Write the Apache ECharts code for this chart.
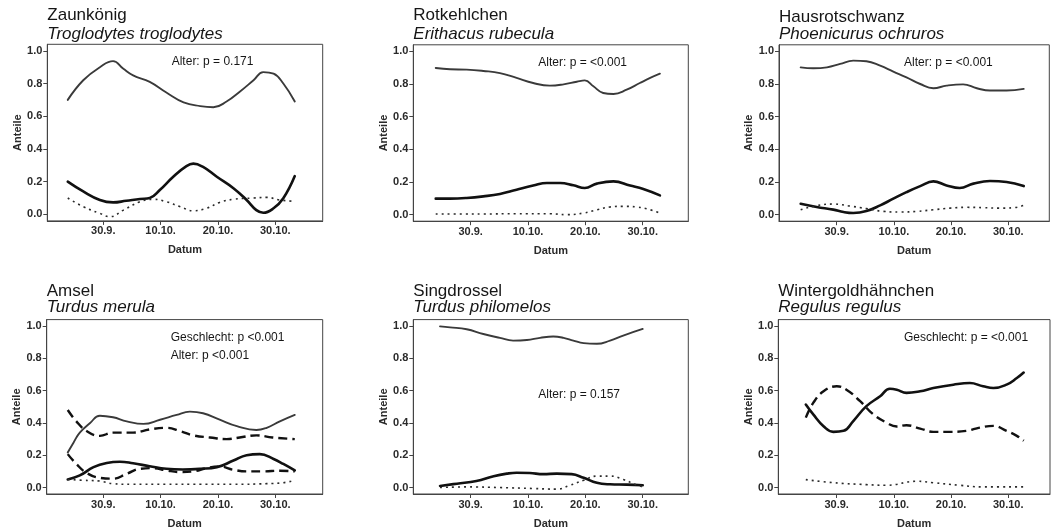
<!DOCTYPE html>
<html>
<head>
<meta charset="utf-8">
<script src="https://cdn.jsdelivr.net/npm/echarts@6/dist/echarts.min.js"></script>
<style>
html,body{margin:0;padding:0;background:#fff;}
#chart{width:1052px;height:530px;}
</style>
</head>
<body>
<div id="chart"></div>
<script>
// ---- tick labels ----
const xTickValues = [30, 40, 50, 60];           // day number (days since 31.8.)
const xTickLabels = ['30.9.', '10.10.', '20.10.', '30.10.'];
const yTickValues = [0, 0.2, 0.4, 0.6, 0.8, 1.0];

// ---- panel texts ----
const commonNames = ['Zaunkönig', 'Rotkehlchen', 'Hausrotschwanz', 'Amsel', 'Singdrossel', 'Wintergoldhähnchen'];
const latinNames = ['Troglodytes troglodytes', 'Erithacus rubecula', 'Phoenicurus ochruros', 'Turdus merula', 'Turdus philomelos', 'Regulus regulus'];
const notes = [
  ['Alter: p = 0.171'],
  ['Alter: p = <0.001'],
  ['Alter: p = <0.001'],
  ['Geschlecht: p <0.001', 'Alter: p <0.001'],
  ['Alter: p = 0.157'],
  ['Geschlecht: p = <0.001']
];

// ---- data: [day, share] ----
// Zaunkönig
const zaunGrey = [[23.8,0.70],[26.5,0.82],[29.4,0.90],[31.7,0.937],[33.5,0.89],[35.2,0.85],[38.1,0.81],[41,0.745],[44,0.685],[46.9,0.662],[49.2,0.655],[51.5,0.69],[53.8,0.75],[56.2,0.82],[57.9,0.87],[59.7,0.86],[61.4,0.80],[63.4,0.69]];
const zaunSolid = [[23.8,0.20],[26.5,0.14],[29.4,0.088],[31.7,0.073],[34,0.083],[36.4,0.094],[38.1,0.10],[39.9,0.15],[42.2,0.23],[44.5,0.295],[45.7,0.31],[47.4,0.29],[49.8,0.23],[52.7,0.16],[55,0.088],[56.7,0.026],[57.9,0.01],[59.7,0.037],[61.4,0.098],[63.4,0.234]];
const zaunDot = [[23.8,0.10],[26.5,0.047],[29.4,0.006],[31.2,-0.014],[33.5,0.026],[36.4,0.077],[38.7,0.092],[41,0.077],[43.4,0.047],[45.7,0.022],[48,0.037],[50.3,0.073],[52.7,0.092],[56.2,0.10],[58.5,0.104],[60.8,0.088],[63.4,0.08]];
// Rotkehlchen
const rotGrey = [[23.9,0.898],[26.4,0.89],[29.3,0.888],[32.2,0.88],[35.1,0.867],[38,0.837],[40.9,0.806],[43.8,0.79],[46.2,0.798],[48.5,0.814],[49.9,0.822],[51.4,0.786],[53.1,0.745],[54.9,0.739],[57.2,0.765],[59.5,0.806],[61.3,0.837],[63,0.863]];
const rotSolid = [[23.9,0.098],[26.4,0.098],[29.3,0.102],[32.2,0.112],[35.1,0.127],[38,0.153],[40.9,0.178],[43.3,0.194],[45.6,0.194],[47.9,0.18],[49.9,0.163],[52,0.19],[54.9,0.204],[57.8,0.178],[60.1,0.157],[63,0.118]];
const rotDot = [[23.9,0.004],[29,0.004],[32.2,0.004],[38,0.006],[43.8,0.006],[46.7,0.0],[49.7,0.01],[52,0.03],[54.3,0.047],[56.6,0.051],[59,0.047],[61.3,0.03],[63,0.01]];
// Hausrotschwanz
const hausGrey = [[23.7,0.902],[25.9,0.896],[28.3,0.902],[30.6,0.923],[32.9,0.943],[35.2,0.939],[37.6,0.912],[39.9,0.876],[42.2,0.841],[44.6,0.80],[46.9,0.774],[49.2,0.79],[52.1,0.798],[54.5,0.774],[56.8,0.76],[59.7,0.76],[62.7,0.77]];
const hausSolid = [[23.7,0.067],[26.5,0.047],[29.4,0.031],[31.2,0.016],[32.9,0.01],[35.2,0.022],[37.6,0.057],[39.9,0.098],[42.2,0.138],[44.6,0.175],[46.9,0.204],[49.2,0.179],[51.5,0.163],[53.9,0.19],[56.8,0.206],[59.7,0.20],[62.7,0.175]];
const hausDot = [[23.7,0.03],[26.5,0.055],[29.4,0.065],[32.3,0.053],[35.2,0.037],[38.2,0.02],[41.1,0.016],[44,0.02],[46.9,0.03],[49.8,0.04],[52.7,0.045],[55.6,0.043],[58.5,0.04],[60.8,0.042],[62.7,0.057]];
// Amsel
const amselGrey = [[23.8,0.217],[24.8,0.278],[25.9,0.34],[27.7,0.40],[29.4,0.445],[31.7,0.435],[34.1,0.41],[37,0.394],[39.9,0.42],[42.8,0.45],[45.1,0.47],[47.4,0.46],[50.3,0.42],[53.3,0.38],[56.7,0.356],[58.5,0.37],[60.8,0.41],[63.4,0.45]];
const amselDashA = [[23.8,0.48],[25.3,0.41],[27.1,0.35],[29.4,0.32],[31.7,0.34],[35.2,0.34],[38.1,0.36],[41,0.37],[43.4,0.35],[45.7,0.323],[48.6,0.31],[51.5,0.30],[53.8,0.31],[56.7,0.323],[59.5,0.31],[63.4,0.30]];
const amselDashB = [[23.8,0.207],[25.3,0.146],[27.1,0.09],[29.4,0.06],[31.7,0.055],[34.1,0.085],[36.4,0.116],[38.7,0.12],[41,0.106],[43.4,0.096],[45.7,0.10],[48,0.12],[50.3,0.13],[52.7,0.11],[55,0.10],[57.9,0.10],[60.8,0.104],[63.4,0.10]];
const amselSolid = [[23.8,0.05],[25.9,0.075],[28.3,0.126],[30.6,0.152],[32.9,0.16],[35.2,0.15],[38.1,0.132],[41,0.116],[43.9,0.112],[46.9,0.116],[49.8,0.126],[52.7,0.167],[55,0.20],[57.3,0.207],[59.7,0.177],[61.4,0.146],[63.4,0.106]];
const amselDot = [[23.8,0.05],[26.5,0.045],[29.4,0.04],[31.7,0.024],[35,0.02],[41,0.02],[47,0.02],[52.7,0.02],[58.5,0.024],[61.4,0.03],[63.4,0.045]];
// Singdrossel
const singGrey = [[24.65,0.998],[26.4,0.992],[29.3,0.98],[32.2,0.951],[35.1,0.927],[37.4,0.91],[39.8,0.914],[42.1,0.927],[44.4,0.935],[46.2,0.927],[47.9,0.91],[49.7,0.894],[52,0.89],[54.3,0.91],[56.6,0.941],[60,0.982]];
const singSolid = [[24.65,0.01],[27.6,0.024],[31,0.04],[34,0.07],[36.3,0.086],[38,0.092],[40.3,0.09],[42.7,0.083],[45,0.086],[47.6,0.083],[49.7,0.06],[52,0.029],[54.3,0.02],[57.2,0.018],[60,0.014]];
const singDot = [[24.65,0.0],[29.3,0.004],[35.1,0.0],[40.9,-0.006],[45,-0.01],[47.3,0.014],[49.7,0.045],[52,0.071],[54.3,0.071],[56.6,0.05],[58.8,0.018],[60,0.004]];
// Wintergoldhähnchen
const wintSolid = [[24.6,0.514],[25.9,0.453],[27.7,0.38],[29.4,0.345],[31.2,0.351],[32.9,0.412],[35.2,0.504],[37.6,0.565],[39.3,0.612],[40.5,0.606],[42.2,0.586],[44.6,0.596],[46.9,0.616],[50.4,0.637],[53.3,0.647],[55.6,0.627],[57.4,0.616],[59.7,0.637],[61.5,0.678],[62.7,0.712]];
const wintDash = [[24.6,0.433],[25.9,0.524],[27.7,0.596],[30,0.627],[31.7,0.606],[34.1,0.535],[36.4,0.453],[38.7,0.402],[40.5,0.378],[42.2,0.386],[44.6,0.365],[46.9,0.345],[49.8,0.345],[52.7,0.351],[55,0.371],[57.4,0.382],[59.7,0.351],[61.5,0.32],[62.7,0.29]];
const wintDot = [[24.6,0.049],[29.4,0.03],[35.2,0.018],[38.7,0.014],[44,0.039],[46.9,0.03],[51.5,0.014],[55.6,0.004],[62.7,0.004]];

const panelSeries = [
  [['grey', zaunGrey], ['solid', zaunSolid], ['dot', zaunDot]],
  [['grey', rotGrey], ['solid', rotSolid], ['dot', rotDot]],
  [['grey', hausGrey], ['solid', hausSolid], ['dot', hausDot]],
  [['grey', amselGrey], ['dash', amselDashA], ['dash', amselDashB], ['solid', amselSolid], ['dot', amselDot]],
  [['grey', singGrey], ['solid', singSolid], ['dot', singDot]],
  [['solid', wintSolid], ['dash', wintDash], ['dot', wintDot]]
];

// ---- layout (pixels) ----
const layout = [
  {left: 47.3, top: 44.3, width: 275.4, height: 176.6, xmin: 20.23, xmax: 68.27, t1: 15.5, t2: 33.8, notes: [[171.7, 61.7]]},
  {left: 413.3, top: 44.8, width: 275.0, height: 176.4, xmin: 19.99, xmax: 67.95, t1: 15.8, t2: 33.8, notes: [[538.3, 62.7]]},
  {left: 779.0, top: 44.8, width: 270.3, height: 176.4, xmin: 19.91, xmax: 67.17, t1: 17.0, t2: 34.0, notes: [[904, 62.7]]},
  {left: 46.7, top: 319.6, width: 276.0, height: 176.6, xmin: 20.13, xmax: 68.27, t1: 291.0, t2: 307.5, notes: [[170.7, 337.7], [170.7, 355.7]]},
  {left: 413.3, top: 319.6, width: 275.0, height: 176.6, xmin: 19.99, xmax: 67.95, t1: 291.0, t2: 307.5, notes: [[538.3, 394.3]]},
  {left: 778.3, top: 319.6, width: 271.7, height: 176.6, xmin: 19.79, xmax: 67.30, t1: 291.5, t2: 307.5, notes: [[904, 337.7]]}
];

const FONT = "'Liberation Sans', Arial, sans-serif";
const INK = '#161616';
const styles = {
  grey: {color: '#3a3a3a', width: 1.9, type: 'solid', cap: 'round'},
  solid: {color: '#111', width: 2.6, type: 'solid', cap: 'round'},
  dash: {color: '#111', width: 2.4, type: [9, 5], cap: 'butt'},
  dot: {color: '#2a2a2a', width: 1.6, type: [2, 4], cap: 'butt'}
};

const grids = [], xAxes = [], yAxes = [], series = [], graphics = [];
layout.forEach((L, i) => {
  grids.push({left: L.left, top: L.top, width: L.width, height: L.height, show: true, borderColor: '#444', borderWidth: 1, backgroundColor: 'transparent', containLabel: false});
  xAxes.push({
    type: 'value', gridIndex: i, min: L.xmin, max: L.xmax,
    axisLine: {show: true, onZero: false, lineStyle: {color: '#444', width: 1}},
    axisTick: {show: true, length: 4, customValues: xTickValues, lineStyle: {color: '#444'}},
    axisLabel: {show: true, customValues: xTickValues, margin: 5, fontFamily: FONT, fontSize: 11, fontWeight: 'bold', color: '#2a2a2a',
      formatter: v => { const k = xTickValues.indexOf(Math.round(v)); return k >= 0 ? xTickLabels[k] : ''; }},
    splitLine: {show: false},
    name: 'Datum', nameLocation: 'middle', nameGap: 24,
    nameTextStyle: {fontFamily: FONT, fontSize: 11, fontWeight: 'bold', color: '#2a2a2a'}
  });
  yAxes.push({
    type: 'value', gridIndex: i, min: -0.04, max: 1.04,
    axisLine: {show: true, onZero: false, lineStyle: {color: '#444', width: 1}},
    axisTick: {show: true, length: 4, customValues: yTickValues, lineStyle: {color: '#444'}},
    axisLabel: {show: true, customValues: yTickValues, margin: 5, fontFamily: FONT, fontSize: 11, fontWeight: 'bold', color: '#2a2a2a',
      formatter: v => v.toFixed(1)},
    splitLine: {show: false},
    name: 'Anteile', nameLocation: 'middle', nameGap: 24, nameRotate: 90,
    nameTextStyle: {fontFamily: FONT, fontSize: 11, fontWeight: 'bold', color: '#2a2a2a'}
  });
  panelSeries[i].forEach(([kind, data]) => {
    series.push({
      type: 'line', xAxisIndex: i, yAxisIndex: i, data: data,
      showSymbol: false, smooth: 0.45, silent: true, clip: false,
      lineStyle: Object.assign({join: 'round'}, styles[kind])
    });
  });
  graphics.push({type: 'text', x: L.left, y: L.t1, style: {text: commonNames[i], font: '17px ' + FONT, fill: INK, verticalAlign: 'middle', align: 'left'}});
  graphics.push({type: 'text', x: L.left, y: L.t2, style: {text: latinNames[i], font: 'italic 17px ' + FONT, fill: INK, verticalAlign: 'middle', align: 'left'}});
  notes[i].forEach((t, j) => {
    graphics.push({type: 'text', x: L.notes[j][0], y: L.notes[j][1], style: {text: t, font: '12px ' + FONT, fill: INK, verticalAlign: 'middle', align: 'left'}});
  });
});

const chart = echarts.init(document.getElementById('chart'), null, {renderer: 'canvas'});
chart.setOption({
  backgroundColor: '#ffffff',
  animation: false,
  grid: grids, xAxis: xAxes, yAxis: yAxes, series: series,
  graphic: graphics
});
</script>
</body>
</html>
